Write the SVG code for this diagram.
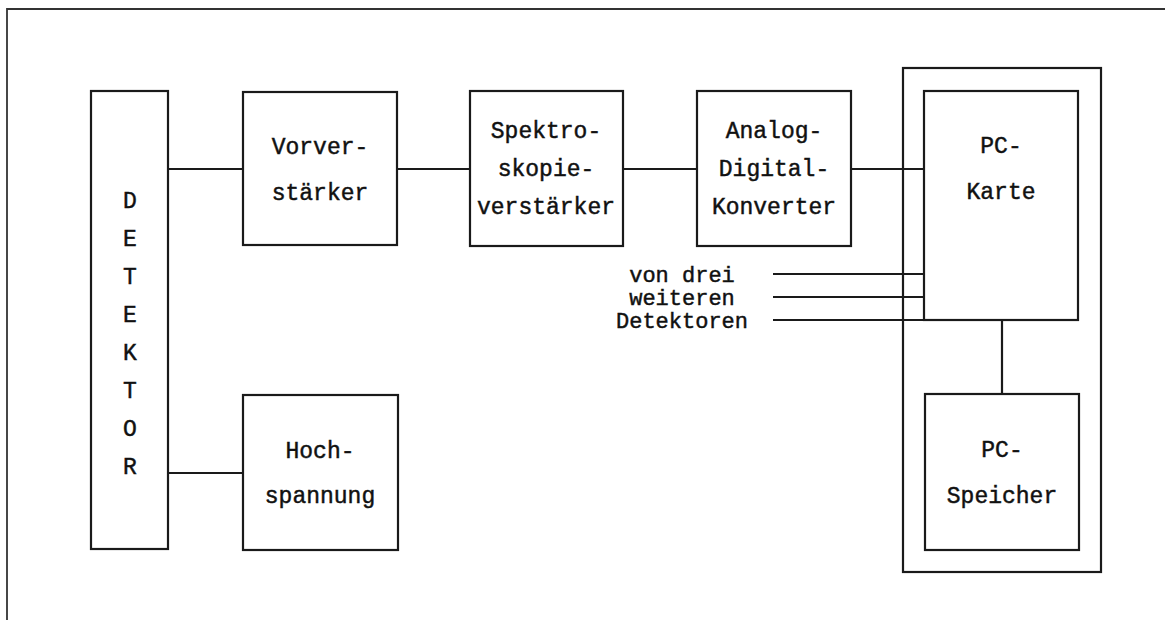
<svg xmlns="http://www.w3.org/2000/svg" width="1165" height="628" viewBox="0 0 1165 628">
  <style>
    .box { fill: none; stroke: #1a1a1a; stroke-width: 2.2; }
    .wire { fill: none; stroke: #1a1a1a; stroke-width: 2.2; }
    .frame { fill: none; stroke: #333; stroke-width: 1.8; }
    text { font-family: "Liberation Mono", "DejaVu Sans Mono", monospace; font-size: 23px; fill: #111; stroke: #111; stroke-width: 0.45; text-anchor: middle; }
    .small { font-size: 22px; }
  </style>
  <rect width="1165" height="628" fill="#fff"/>

  <!-- page frame (top and left edges only) -->
  <path class="frame" d="M7,620 V9 H1165"/>

  <!-- signal and supply lines -->
  <g id="connectors">
    <line class="wire" x1="168" y1="169" x2="243" y2="169"/>
    <line class="wire" x1="397" y1="169" x2="470" y2="169"/>
    <line class="wire" x1="623" y1="169" x2="697" y2="169"/>
    <line class="wire" x1="851" y1="169" x2="924" y2="169"/>
    <line class="wire" x1="168" y1="473" x2="243" y2="473"/>
    <line class="wire" x1="773" y1="274" x2="924" y2="274"/>
    <line class="wire" x1="773" y1="297" x2="924" y2="297"/>
    <line class="wire" x1="773" y1="320" x2="924" y2="320"/>
    <line class="wire" x1="1002" y1="320" x2="1002" y2="394"/>
  </g>

  <g id="detektor">
    <rect class="box" x="91" y="91" width="77" height="458"/>
    <text x="130" y="208">D</text>
    <text x="130" y="246">E</text>
    <text x="130" y="284">T</text>
    <text x="130" y="322">E</text>
    <text x="130" y="360">K</text>
    <text x="130" y="398">T</text>
    <text x="130" y="436">O</text>
    <text x="130" y="474">R</text>
  </g>

  <g id="vorverstaerker">
    <rect class="box" x="243" y="92" width="154" height="153"/>
    <text x="320" y="154">Vorver-</text>
    <text x="320" y="200">stärker</text>
  </g>

  <g id="spektroskopieverstaerker">
    <rect class="box" x="470" y="91" width="153" height="155"/>
    <text x="546" y="138">Spektro-</text>
    <text x="546" y="176">skopie-</text>
    <text x="546" y="214">verstärker</text>
  </g>

  <g id="adc">
    <rect class="box" x="697" y="91" width="154" height="155"/>
    <text x="774" y="138">Analog-</text>
    <text x="774" y="176">Digital-</text>
    <text x="774" y="214">Konverter</text>
  </g>

  <g id="hochspannung">
    <rect class="box" x="243" y="395" width="155" height="155"/>
    <text x="320" y="458">Hoch-</text>
    <text x="320" y="503">spannung</text>
  </g>

  <g id="weitere-detektoren">
    <text class="small" x="682" y="282">von drei</text>
    <text class="small" x="682" y="305">weiteren</text>
    <text class="small" x="682" y="328">Detektoren</text>
  </g>

  <g id="pc">
    <rect class="box" x="903" y="68" width="198" height="504"/>
  </g>

  <g id="pc-karte">
    <rect class="box" x="924" y="91" width="154" height="229"/>
    <text x="1001" y="153">PC-</text>
    <text x="1001" y="199">Karte</text>
  </g>

  <g id="pc-speicher">
    <rect class="box" x="925" y="394" width="154" height="156"/>
    <text x="1002" y="457">PC-</text>
    <text x="1002" y="503">Speicher</text>
  </g>
</svg>
